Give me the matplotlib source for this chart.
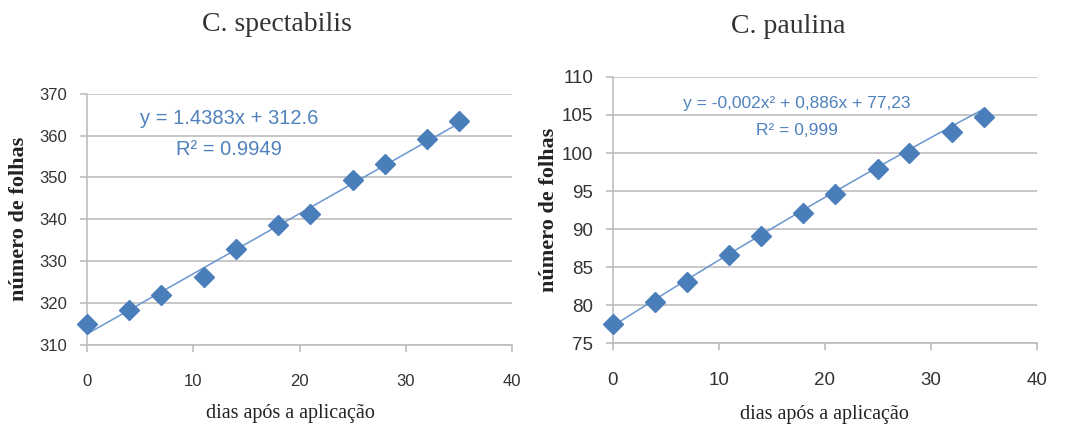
import matplotlib
matplotlib.use("Agg")
import matplotlib.pyplot as plt
import numpy as np
from matplotlib import font_manager

# dias após a aplicação
dias = [0, 4, 7, 11, 14, 18, 21, 25, 28, 32, 35]
# número de folhas
folhas_spect = [315.0, 318.3, 321.8, 326.3, 332.9, 338.6, 341.2, 349.3, 353.3, 359.3, 363.5]
folhas_paul = [77.5, 80.4, 83.1, 86.6, 89.1, 92.1, 94.6, 97.9, 100.0, 102.7, 104.7]

# trendline coefficients as printed on the chart
lin_coef = [1.4383, 312.6]
quad_coef = [-0.002, 0.886, 77.23]

names = [f.name for f in font_manager.fontManager.ttflist]
narrow = 'Liberation Sans Narrow' if 'Liberation Sans Narrow' in names else 'Liberation Sans'
serif = 'Liberation Serif'

blue = '#4a7ebb'
line_blue = '#6b96cf'
txt_blue = '#4f81bd'
grid_c = '#bdbdbd'
lab_c = '#333333'

fig = plt.figure(figsize=(10.71, 4.3), dpi=100)
ax1 = fig.add_axes([0.0812, 0.198, 0.397, 0.584])
ax2 = fig.add_axes([0.572, 0.202, 0.396, 0.619])


def style(ax, yticks, fs, ylpad):
    ax.set_xlim(0, 40)
    ax.set_ylim(yticks[0], yticks[-1])
    ax.set_xticks([0, 10, 20, 30, 40])
    ax.set_yticks(yticks)
    ax.grid(axis='y', color=grid_c, lw=1.2)
    ax.set_axisbelow(True)
    for s in ['top', 'right']:
        ax.spines[s].set_visible(False)
    for s in ['left', 'bottom']:
        ax.spines[s].set_color(grid_c)
        ax.spines[s].set_linewidth(1.2)
    ax.tick_params(axis='both', colors=grid_c, width=1.2, length=5, direction='out')
    ax.tick_params(axis='x', pad=16, labelcolor=lab_c)
    ax.tick_params(axis='y', pad=9, labelcolor=lab_c)
    for lab in ax.get_xticklabels() + ax.get_yticklabels():
        lab.set_fontfamily(narrow)
        lab.set_fontsize(fs)
    ax.set_xlabel('dias após a aplicação', fontfamily=serif, fontsize=14.5,
                  color='#222222')
    ax.set_ylabel('número de folhas', fontfamily=serif, fontsize=16,
                  fontweight='bold', color='#222222', labelpad=ylpad)


# C. spectabilis
style(ax1, [310, 320, 330, 340, 350, 360, 370], 12, 8)
xx = np.linspace(0, 35, 50)
ax1.plot(xx, np.polyval(lin_coef, xx), color=line_blue, lw=1.1, zorder=2)
ax1.plot(dias, folhas_spect, 'D', color=blue, ms=10, zorder=3, clip_on=False)
ax1.text(13.4, 364.2, 'y = 1.4383x + 312.6', fontfamily=narrow, fontsize=14.5,
         color=txt_blue, ha='center', va='center')
ax1.text(13.4, 356.6, 'R² = 0.9949', fontfamily=narrow, fontsize=14.5,
         color=txt_blue, ha='center', va='center')
ax1.set_title('C. spectabilis', fontfamily=serif, fontsize=20, color='#333333',
              pad=45, x=0.447)
ax1.xaxis.set_label_coords(0.478, -0.235)

# C. paulina
style(ax2, [75, 80, 85, 90, 95, 100, 105, 110], 13.5, 2)
ax2.plot(xx, np.polyval(quad_coef, xx), color=line_blue, lw=1.1, zorder=2)
ax2.plot(dias, folhas_paul, 'D', color=blue, ms=10, zorder=3, clip_on=False)
ax2.text(17.4, 106.5, 'y = -0,002x² + 0,886x + 77,23', fontfamily=narrow, fontsize=12.5,
         color=txt_blue, ha='center', va='center')
ax2.text(17.4, 102.9, 'R² = 0,999', fontfamily=narrow, fontsize=12.5,
         color=txt_blue, ha='center', va='center')
ax2.set_title('C. paulina', fontfamily=serif, fontsize=20, color='#333333',
              pad=32, x=0.413)
ax2.xaxis.set_label_coords(0.5, -0.232)

fig.savefig('out.png', dpi=100)
